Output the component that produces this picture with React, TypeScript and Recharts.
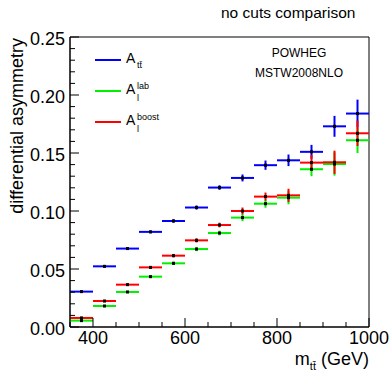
import { ScatterChart, Scatter, XAxis, YAxis, ErrorBar, ReferenceArea, Legend } from 'recharts';

// bin centres of m_tt (GeV), 50 GeV wide bins
const massBins = [375, 425, 475, 525, 575, 625, 675, 725, 775, 825, 875, 925, 975];
const binHalfWidth = 25;

const attValues = [0.0305, 0.0523, 0.0676, 0.082, 0.0914, 0.103, 0.1202, 0.1285, 0.1395, 0.1437, 0.151, 0.173, 0.184];
const attErrors = [0.001, 0.001, 0.001, 0.0012, 0.0015, 0.0018, 0.002, 0.003, 0.004, 0.005, 0.006, 0.009, 0.012];

const labValues = [0.0055, 0.0181, 0.0302, 0.0434, 0.0549, 0.0672, 0.081, 0.0943, 0.1063, 0.1115, 0.136, 0.1405, 0.161];
const labErrors = [0.001, 0.001, 0.001, 0.0012, 0.0015, 0.0018, 0.002, 0.003, 0.0035, 0.0057, 0.006, 0.01, 0.011];

const boostValues = [0.0078, 0.0224, 0.0365, 0.0514, 0.0615, 0.0747, 0.0879, 0.1, 0.1124, 0.1135, 0.1417, 0.142, 0.167];
const boostErrors = [0.001, 0.001, 0.001, 0.0012, 0.0015, 0.0018, 0.002, 0.003, 0.0035, 0.0057, 0.0065, 0.01, 0.011];

const xTicks = [350, 400, 450, 500, 550, 600, 650, 700, 750, 800, 850, 900, 950, 1000];
const xLabels = [400, 600, 800, 1000];
const yTicks = Array.from({ length: 26 }, (_, i) => i / 100);

const FONT = '"Liberation Sans", Arial, Helvetica, sans-serif';

const toRows = (vals: number[], errs: number[]) =>
  massBins.map((m, i) => ({ m, a: vals[i], ex: binHalfWidth, ey: errs[i] }));

const series = [
  { key: 'att', color: '#0000ff', rows: toRows(attValues, attErrors), sub: 'tt\u0304', sup: '' },
  { key: 'lab', color: '#00f000', rows: toRows(labValues, labErrors), sub: 'l', sup: 'lab' },
  { key: 'boost', color: '#ff0000', rows: toRows(boostValues, boostErrors), sub: 'l', sup: 'boost' },
];

const Dot = (props: any) => <rect x={props.cx - 1.5} y={props.cy - 1.5} width={3} height={3} fill="#000" />;

const XTick = (props: any) => {
  const { x, y, payload } = props;
  const major = xLabels.includes(payload.value);
  return (
    <g>
      <line x1={x} x2={x} y1={y} y2={y - (major ? 9 : 5)} stroke="#000" />
      {major && (
        <text x={x} y={y + 17} textAnchor="middle" fontSize={18} fontFamily={FONT} fill="#000">
          {payload.value}
        </text>
      )}
    </g>
  );
};

const YTick = (props: any) => {
  const { x, y, payload } = props;
  const major = Math.round(payload.value * 100) % 5 === 0;
  return (
    <g>
      <line x1={x} x2={x + (major ? 9 : 5)} y1={y} y2={y} stroke="#000" />
      {major && (
        <text x={x - 5} y={y + 8} textAnchor="end" fontSize={18} fontFamily={FONT} fill="#000">
          {payload.value.toFixed(2)}
        </text>
      )}
    </g>
  );
};

const LegendBox = () => (
  <svg width={389} height={373} style={{ overflow: 'visible' }}>
    {series.map((s, i) => {
      const y = 60 + i * 31;
      return (
        <g key={s.key}>
          <line x1={95} x2={121} y1={y} y2={y} stroke={s.color} strokeWidth={2} />
          <text x={126} y={y + 3} fontSize={14} fontFamily={FONT}>A</text>
          <text x={137} y={y + (s.sup ? 10 : 8)} fontSize={9} fontFamily={FONT}>{s.sub}</text>
          {s.sup && (
            <text x={137} y={y - 2} fontSize={9} fontFamily={FONT}>{s.sup}</text>
          )}
        </g>
      );
    })}
  </svg>
);

export default function App() {
  return (
    <div style={{ position: 'absolute', left: 0, top: 0, width: 389, height: 373, background: '#fff', fontFamily: FONT }}>
      <ScatterChart width={389} height={373} margin={{ top: 37, right: 20, bottom: 0, left: 0 }}>
        <XAxis
          type="number"
          dataKey="m"
          domain={[350, 1000]}
          ticks={xTicks}
          interval={0}
          tickLine={false}
          tickSize={0}
          tickMargin={0}
          height={46}
          tick={<XTick />}
          axisLine={{ stroke: '#000' }}
          allowDataOverflow
        />
        <YAxis
          type="number"
          dataKey="a"
          domain={[0, 0.25]}
          ticks={yTicks}
          interval={0}
          tickLine={false}
          tickSize={0}
          tickMargin={0}
          width={70}
          tick={<YTick />}
          axisLine={{ stroke: '#000' }}
          allowDataOverflow
        />
        <ReferenceArea x1={350} x2={1000} y1={0} y2={0.25} fill="none" stroke="#000" strokeWidth={1} fillOpacity={0} />
        {series.map((s) => (
          <Scatter key={s.key} name={s.key} data={s.rows} fill="#000" shape={<Dot />} isAnimationActive={false}>
            <ErrorBar dataKey="ex" direction="x" width={0} stroke={s.color} strokeWidth={2} />
            <ErrorBar dataKey="ey" direction="y" width={0} stroke={s.color} strokeWidth={2} />
          </Scatter>
        ))}
        <Legend
          layout="vertical"
          align="center"
          verticalAlign="middle"
          content={<LegendBox />}
          wrapperStyle={{ left: 0, top: 0, width: 389, height: 373, pointerEvents: 'none' }}
        />
        <text x={221} y={18} fontSize={15.5} fontFamily={FONT} fill="#000">no cuts comparison</text>
        <text x={299} y={57} fontSize={12} textAnchor="middle" fontFamily={FONT} fill="#000">POWHEG</text>
        <text x={299} y={77} fontSize={12} textAnchor="middle" fontFamily={FONT} fill="#000">MSTW2008NLO</text>
        <text transform="translate(23,38) rotate(-90)" textAnchor="end" fontSize={18} fontFamily={FONT} fill="#000">
          differential asymmetry
        </text>
        <text x={369} y={365} textAnchor="end" fontSize={18} fontFamily={FONT} fill="#000">
          m<tspan dy={5} fontSize={11}>tt{'\u0304'}</tspan>
          <tspan dy={-5}> (GeV)</tspan>
        </text>
      </ScatterChart>
    </div>
  );
}
